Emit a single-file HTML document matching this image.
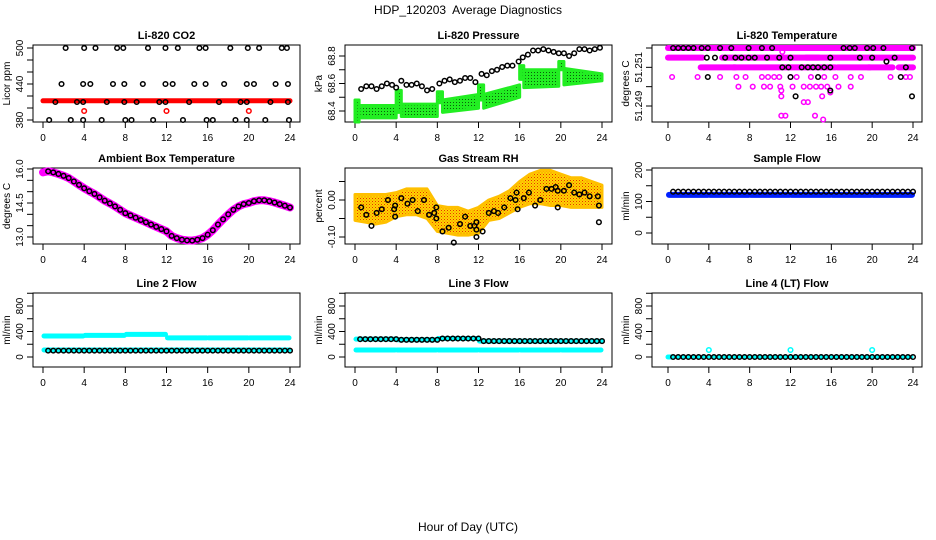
<!DOCTYPE html>
<html><head><meta charset="utf-8"><style>
body{margin:0;background:#fff}
svg{display:block;font-family:"Liberation Sans",sans-serif}
</style></head><body>
<svg id="c" width="936" height="540" viewBox="0 0 936 540">
<defs>
<pattern id="rhpat" width="3" height="3" patternUnits="userSpaceOnUse"><rect width="3" height="3" fill="#ffd400"/><rect width="1" height="1" fill="#e83000"/><rect x="1.5" y="1.5" width="1" height="1" fill="#f07000"/></pattern>
<pattern id="grpat" width="3" height="3" patternUnits="userSpaceOnUse"><rect width="3" height="3" fill="#22ee22"/><rect width="1" height="1" fill="#0a600a"/></pattern>
</defs>
<text x="468" y="14" text-anchor="middle" font-size="12">HDP_120203&#160; Average Diagnostics</text>
<text x="468" y="531" text-anchor="middle" font-size="12">Hour of Day (UTC)</text>
</svg>
<script>
// ---------- data ----------
const xTicks=[0,4,8,12,16,20,24];
// CO2
const co2RedLevel=[412];
const co2RedDotH=[4,12,20];
const co2RedDotV=[395,395,395];
const co2BlackH=[2.2,4.0,5.1,7.2,7.8,10.2,11.9,13.1,15.2,15.8,18.2,19.9,21.0,23.2,23.7,
 1.8,3.9,4.6,6.8,7.9,9.7,11.9,12.6,14.7,15.8,17.6,19.8,20.5,22.6,23.8,
 1.2,3.3,3.9,6.2,7.9,9.1,11.3,11.9,14.2,17.1,19.2,19.8,22.1,23.8,
 0.6,2.7,3.9,5.7,8.0,8.6,10.7,13.6,15.9,16.5,18.7,19.8,21.6,23.9];
const co2BlackV=[500,500,500,500,500,500,500,500,500,500,500,500,500,500,500,
 440,440,440,440,440,440,440,440,440,440,440,440,440,440,440,
 410,410,410,410,410,410,410,410,410,410,410,410,410,410,
 380,380,380,380,380,380,380,380,380,380,380,380,380,380];
// Pressure
const pressH=[0.6,1.1,1.6,2.1,2.6,3.1,3.6,4.0,4.5,5.0,5.5,6.0,6.5,7.0,7.5,8.2,8.7,9.2,9.7,10.2,10.7,11.2,11.7,12.3,12.8,13.3,13.8,14.3,14.8,15.3,15.9,16.3,16.8,17.3,17.8,18.3,18.8,19.3,19.8,20.3,20.8,21.3,21.8,22.3,22.8,23.3,23.8];
const pressV=[68.56,68.58,68.58,68.56,68.58,68.6,68.59,68.57,68.62,68.59,68.59,68.6,68.58,68.55,68.56,68.6,68.62,68.63,68.61,68.62,68.64,68.64,68.61,68.67,68.66,68.69,68.7,68.72,68.73,68.73,68.76,68.79,68.81,68.84,68.84,68.85,68.84,68.83,68.82,68.82,68.8,68.82,68.85,68.85,68.84,68.85,68.86];
const pressGrStart=[0,0.4,4.0,4.5,8.0,8.5,12.0,12.5,16.0,16.4,19.8,20.3];
const pressGrEnd  =[0.4,4.0,4.5,8.0,8.5,12.0,12.5,16.0,16.4,19.8,20.3,24.0];
const pressGrLo0  =[68.32,68.35,68.39,68.36,68.46,68.39,68.48,68.42,68.63,68.57,68.70,68.59];
const pressGrHi0  =[68.48,68.44,68.55,68.45,68.54,68.48,68.59,68.52,68.73,68.70,68.76,68.71];
const pressGrLo1  =[68.32,68.35,68.39,68.36,68.46,68.42,68.48,68.50,68.63,68.58,68.70,68.62];
const pressGrHi1  =[68.48,68.44,68.55,68.45,68.54,68.52,68.59,68.59,68.73,68.70,68.76,68.67];
// Li-820 temperature
const tBandLevel=[51.252,51.252,51.252,51.252,51.2515,51.2515,51.2515,51.251,51.251,51.251,51.251,51.251];
const tBandStart=[0.0,9.0,10.5,11.9,0.0,5.3,13.5,3.2,6.4,16.6,19.6,22.6];
const tBandEnd  =[10.5,9.6,12.3,24.0,3.4,14.8,24.0,6.6,16.4,19.8,22.0,24.0];
const tMagH=[0.4,2.9,5.1,6.7,7.6,9.2,9.8,10.4,10.9,12.0,12.6,14.0,15.3,16.4,17.9,18.9,21.8,23.3,23.7,
 6.9,8.3,9.4,10.0,11.0,12.2,13.3,13.9,14.5,15.0,15.6,16.7,17.9,
 11.1,15.1,11.1,13.3,13.7,11.1,11.5,14.4,15.2,11.2,15.9];
const tMagV=[51.2505,51.2505,51.2505,51.2505,51.2505,51.2505,51.2505,51.2505,51.2505,51.2505,51.2505,51.2505,51.2505,51.2505,51.2505,51.2505,51.2505,51.2505,51.2505,
 51.250,51.250,51.250,51.250,51.250,51.250,51.250,51.250,51.250,51.250,51.250,51.250,51.250,
 51.2495,51.2495,51.2498,51.2492,51.2492,51.2485,51.2485,51.2485,51.2483,51.2518,51.2497];
const tBlkH=[0.5,1.0,1.5,2.0,2.5,3.3,3.9,5.1,6.2,7.9,9.2,10.2,17.2,17.8,18.3,19.5,20.1,21.1,23.9,
 3.8,4.6,5.6,6.6,7.2,7.9,8.5,9.7,10.9,12.0,15.9,18.8,20.0,22.2,
 11.2,11.8,13.1,13.7,14.2,14.7,15.3,15.9,23.3,21.4,
 3.9,12.0,14.7,22.8,12.5,23.9,15.9];
const tBlkV=[51.252,51.252,51.252,51.252,51.252,51.252,51.252,51.252,51.252,51.252,51.252,51.252,51.252,51.252,51.252,51.252,51.252,51.252,51.252,
 51.2515,51.2515,51.2515,51.2515,51.2515,51.2515,51.2515,51.2515,51.2515,51.2515,51.2515,51.2515,51.2515,51.2515,
 51.251,51.251,51.251,51.251,51.251,51.251,51.251,51.251,51.251,51.2513,
 51.2505,51.2505,51.2505,51.2505,51.2495,51.2495,51.2498];
// Ambient box temperature (half-hourly)
const ambH=[0,0.5,1,1.5,2,2.5,3,3.5,4,4.5,5,5.5,6,6.5,7,7.5,8,8.5,9,9.5,10,10.5,11,11.5,12,12.5,13,13.5,14,14.5,15,15.5,16,16.5,17,17.5,18,18.5,19,19.5,20,20.5,21,21.5,22,22.5,23,23.5,24];
const ambV=[15.85,15.9,15.85,15.78,15.7,15.6,15.45,15.3,15.15,15.02,14.9,14.75,14.6,14.48,14.35,14.2,14.05,13.95,13.85,13.75,13.65,13.55,13.45,13.35,13.25,13.05,12.95,12.88,12.85,12.84,12.88,12.95,13.1,13.3,13.55,13.78,14.0,14.2,14.35,14.45,14.5,14.58,14.62,14.62,14.58,14.52,14.45,14.38,14.3];
// Gas stream RH
const rhCloudH =[0,1,2,3,4,5,6,7,8,9,10,11,12,13,14,15,16,17,18,19,20,21,22,23,24];
const rhCloudLo=[-0.055,-0.06,-0.065,-0.06,-0.045,-0.04,-0.04,-0.05,-0.085,-0.09,-0.095,-0.095,-0.09,-0.055,-0.05,-0.035,-0.02,-0.01,-0.01,-0.015,-0.015,-0.02,-0.02,-0.02,-0.02];
const rhCloudHi=[0.015,0.015,0.015,0.015,0.02,0.03,0.03,0.03,-0.015,-0.02,-0.02,-0.03,-0.02,0.0,0.01,0.025,0.05,0.07,0.08,0.08,0.07,0.06,0.06,0.05,0.04];
const rhBlkH=[0.6,1.1,1.6,2.1,2.6,3.2,3.8,3.9,3.9,4.5,5.1,5.6,6.1,6.7,7.2,7.7,7.9,7.9,8.5,9.1,9.6,10.2,10.7,11.2,11.6,11.8,11.8,11.8,12.4,13.0,13.5,13.9,14.5,15.1,15.6,15.7,15.8,16.4,16.9,17.5,18.0,18.6,19.1,19.5,19.7,19.7,20.3,20.8,21.3,21.8,22.3,22.8,23.6,23.7,23.7];
const rhBlkV=[-0.02,-0.04,-0.07,-0.035,-0.025,0.0,-0.025,-0.045,-0.015,0.005,-0.01,0.0,-0.03,0.0,-0.04,-0.035,-0.02,-0.05,-0.085,-0.075,-0.115,-0.065,-0.045,-0.07,-0.07,-0.06,-0.08,-0.1,-0.085,-0.035,-0.03,-0.035,-0.02,0.005,0.0,0.02,-0.025,0.005,0.02,-0.015,0.0,0.03,0.03,0.035,0.025,-0.02,0.025,0.04,0.02,0.015,0.02,0.01,0.01,-0.015,-0.06];
// Flows: segment starts/ends/values
const segStart=[0,4,8,12,16,20];
const segEnd=[4,8,12,16,20,24];
const sampleBlue=[121,121,121,121,121,121];
const sampleBlack=[131,131,131,131,131,131];
const line2Top=[330,340,355,300,300,300];
const line2Bottom=[110,110,110,110,110,110];
const line2Black=[100,100,100,100,100,100];
const line3Top=[280,270,290,250,250,250];
const line3Bottom=[110,110,110,110,110,110];
const line3Black=[280,270,290,250,250,250];
const line4Black=[0,0,0,0,0,0];
const line4SpikeH=[4,12,20];
const line4SpikeV=[110,110,110];

// ---------- drawing ----------
const NS="http://www.w3.org/2000/svg";
const svg=document.getElementById('c');
function mk(tag,parent,attrs){const e=document.createElementNS(NS,tag);for(const k in attrs)e.setAttribute(k,attrs[k]);parent.appendChild(e);return e;}

function makePanel(o){
  const g=mk('g',svg,{});
  
  
  const xs=h=>o.hx0+(o.hx1-o.hx0)*h/24;
  const ys=v=>o.p1+(v-o.v1)*(o.p2-o.p1)/(o.v2-o.v1);
  const box=mk('rect',g,{x:o.bx0,y:o.by0,width:o.bx1-o.bx0,height:o.by1-o.by0,fill:'none',stroke:'#000','stroke-width':1});
  
  
  const t=mk('text',g,{x:(o.bx0+o.bx1)/2,y:o.by0-6,'text-anchor':'middle','font-size':11,'font-weight':'bold'});
  t.textContent=o.title;
  
  
  const xa=mk('g',g,{});
  
  
  mk('line',xa,{x1:xs(0),x2:xs(24),y1:o.by1,y2:o.by1,stroke:'#000'});
  xTicks.forEach(v=>{
    mk('line',xa,{x1:xs(v),x2:xs(v),y1:o.by1,y2:o.by1+6,stroke:'#000'});
    const l=mk('text',xa,{x:xs(v),y:o.by1+19,'text-anchor':'middle','font-size':10});
    l.textContent=v;
    
    
  });
  const ya=mk('g',g,{});
  
  
  o.yTicks.forEach(v=>{
    const y=ys(v);
    mk('line',ya,{x1:o.bx0-6,x2:o.bx0,y1:y,y2:y,stroke:'#000'});
  });
  mk('line',ya,{x1:o.bx0,x2:o.bx0,y1:ys(o.yTicks[0]),y2:ys(o.yTicks[o.yTicks.length-1]),stroke:'#000'});
  o.yLabels.forEach((v,i)=>{
    const y=ys(v);
    const l=mk('text',ya,{x:0,y:0,'text-anchor':'middle','font-size':10,transform:`translate(${o.bx0-10},${y}) rotate(-90)`});
    l.textContent=o.yLabelText?o.yLabelText[i]:v;
    
    
  });
  const yt=mk('text',g,{x:0,y:0,'text-anchor':'middle','font-size':10,transform:`translate(${o.bx0-23},${(o.by0+o.by1)/2}) rotate(-90)`});
  yt.textContent=o.ytitle;
  
  
  const marks=mk('g',g,{});
  
  
  return {g:marks,xs,ys};
}
function circ(p,x,y,col,name,r,sw){
  const c=mk('circle',p,{cx:x,cy:y,r:r||2.3,fill:'none',stroke:col,'stroke-width':sw||1.5});
  
  
  return c;
}
function band(p,x1,x2,y,col,w,name){
  const l=mk('line',p,{x1:x1,x2:x2,y1:y,y2:y,stroke:col,'stroke-width':w,'stroke-linecap':'round'});
  
  
  return l;
}
function rng(a,b,step){const r=[];for(let v=a;v<=b+1e-9;v+=step)r.push(+v.toFixed(6));return r;}

const C1={bx0:33,bx1:300,hx0:43,hx1:290}, C2={bx0:345,bx1:612,hx0:355,hx1:602}, C3={bx0:652,bx1:922,hx0:668,hx1:913};
const R1={by0:45,by1:122},R2={by0:168,by1:244},R3={by0:293,by1:367};

(()=>{const P=makePanel(Object.assign({name:'panel-co2',title:'Li-820 CO2',ytitle:'Licor ppm',v1:500,p1:48,v2:380,p2:120,yTicks:rng(380,500,20),yLabels:[380,440,500]},C1,R1));
 band(P.g,P.xs(0),P.xs(24),P.ys(co2RedLevel[0]),'#ff0000',5,'co2-red-band');
 co2RedDotH.forEach((h,i)=>circ(P.g,P.xs(h),P.ys(co2RedDotV[i]),'#ff0000','co2-red-point'));
 co2BlackH.forEach((h,i)=>circ(P.g,P.xs(h),P.ys(co2BlackV[i]),'#000','co2-black-point'));
})();
(()=>{const P=makePanel(Object.assign({name:'panel-pressure',title:'Li-820 Pressure',ytitle:'kPa',v1:68.8,p1:56,v2:68.4,p2:111,yTicks:rng(68.4,68.8,0.1),yLabels:[68.4,68.6,68.8],yLabelText:['68.4','68.6','68.8']},C2,R1));
 pressGrStart.forEach((s,i)=>{
  const x1=P.xs(s),x2=P.xs(pressGrEnd[i]);
  const pg=mk('polygon',P.g,{points:`${x1},${P.ys(pressGrHi0[i])} ${x2},${P.ys(pressGrHi1[i])} ${x2},${P.ys(pressGrLo1[i])} ${x1},${P.ys(pressGrLo0[i])}`,fill:'url(#grpat)',stroke:'#22ee22','stroke-width':3,'stroke-linejoin':'round'});
  
  
 });
 pressH.forEach((h,i)=>circ(P.g,P.xs(h),P.ys(pressV[i]),'#000','pressure-point'));
})();
(()=>{const P=makePanel(Object.assign({name:'panel-li820-temperature',title:'Li-820 Temperature',ytitle:'degrees C',v1:51.252,p1:48,v2:51.249,p2:106,yTicks:rng(51.249,51.252,0.001),yLabels:[51.249,51.251],yLabelText:['51.249','51.251']},C3,R1));
 tBandLevel.forEach((v,i)=>band(P.g,P.xs(tBandStart[i]),P.xs(tBandEnd[i]),P.ys(v),'#ff00ff',6,'temp-magenta-band'));
 tMagH.forEach((h,i)=>circ(P.g,P.xs(h),P.ys(tMagV[i]),'#ff00ff','temp-magenta-point'));
 tBlkH.forEach((h,i)=>circ(P.g,P.xs(h),P.ys(tBlkV[i]),'#000','temp-black-point'));
})();
(()=>{const P=makePanel(Object.assign({name:'panel-ambient-temperature',title:'Ambient Box Temperature',ytitle:'degrees C',v1:16,p1:169,v2:13,p2:237,yTicks:rng(13,16,0.5),yLabels:[13,14.5,16],yLabelText:['13.0','14.5','16.0']},C1,R2));
 const pl=mk('polyline',P.g,{points:ambH.map((h,i)=>P.xs(h)+','+P.ys(ambV[i])).join(' '),fill:'none',stroke:'#ff00ff','stroke-width':8,'stroke-linejoin':'round','stroke-linecap':'round'});
 
 
 ambH.forEach((h,i)=>{if(h>0)circ(P.g,P.xs(h),P.ys(ambV[i]),'#000','ambient-point');});
})();
(()=>{const P=makePanel(Object.assign({name:'panel-gas-rh',title:'Gas Stream RH',ytitle:'percent',v1:0,p1:200,v2:-0.1,p2:237,yTicks:rng(-0.1,0.05,0.05),yLabels:[-0.1,0],yLabelText:['-0.10','0.00']},C2,R2));
 const pts=rhCloudH.map((h,i)=>P.xs(h)+','+P.ys(rhCloudHi[i])).concat(rhCloudH.slice().reverse().map((h,j)=>{const i=rhCloudH.length-1-j;return P.xs(h)+','+P.ys(rhCloudLo[i]);}));
 const pg=mk('polygon',P.g,{points:pts.join(' '),fill:'url(#rhpat)',stroke:'#ffc000','stroke-width':3,'stroke-linejoin':'round'});
 
 
 rhBlkH.forEach((h,i)=>circ(P.g,P.xs(h),P.ys(rhBlkV[i]),'#000','rh-point'));
})();
function flowMarks(P,vals,col,w,name){segStart.forEach((s,i)=>band(P.g,P.xs(s)+1,P.xs(segEnd[i])-1,P.ys(vals[i]),col,w,name));}
function flowCircles(P,vals,col,name){segStart.forEach((s,i)=>{for(let h=s+0.5;h<=segEnd[i]+1e-9;h+=0.5)circ(P.g,P.xs(h),P.ys(vals[i]),col,name);});}
(()=>{const P=makePanel(Object.assign({name:'panel-sample-flow',title:'Sample Flow',ytitle:'ml/min',v1:0,p1:233,v2:200,p2:170,yTicks:rng(0,200,50),yLabels:[0,100,200]},C3,R2));
 flowMarks(P,sampleBlue,'#0020ff',6,'sample-blue-band');
 flowCircles(P,sampleBlack,'#000','sample-black-point');
})();
const flowCfg={v1:0,p1:357,v2:800,p2:306,yTicks:rng(0,1000,200),yLabels:[0,400,800],ytitle:'ml/min'};
(()=>{const P=makePanel(Object.assign({name:'panel-line2-flow',title:'Line 2 Flow'},flowCfg,C1,R3));
 flowMarks(P,line2Top,'#00ffff',5,'line2-top-band');
 flowMarks(P,line2Bottom,'#00ffff',5,'line2-bottom-band');
 flowCircles(P,line2Black,'#000','line2-black-point');
})();
(()=>{const P=makePanel(Object.assign({name:'panel-line3-flow',title:'Line 3 Flow'},flowCfg,C2,R3));
 flowMarks(P,line3Top,'#00ffff',5,'line3-top-band');
 flowMarks(P,line3Bottom,'#00ffff',5,'line3-bottom-band');
 flowCircles(P,line3Black,'#000','line3-black-point');
})();
(()=>{const P=makePanel(Object.assign({name:'panel-line4-flow',title:'Line 4 (LT) Flow'},flowCfg,C3,R3));
 band(P.g,P.xs(0),P.xs(0.4),P.ys(0),'#00ffff',5,'line4-cyan-start');
 flowMarks(P,line4Black,'#00ffff',3,'line4-cyan-band');
 flowCircles(P,line4Black,'#000','line4-black-point');
 line4SpikeH.forEach((h,i)=>circ(P.g,P.xs(h),P.ys(line4SpikeV[i]),'#00ffff','line4-cyan-point'));
})();
</script>
</body></html>
